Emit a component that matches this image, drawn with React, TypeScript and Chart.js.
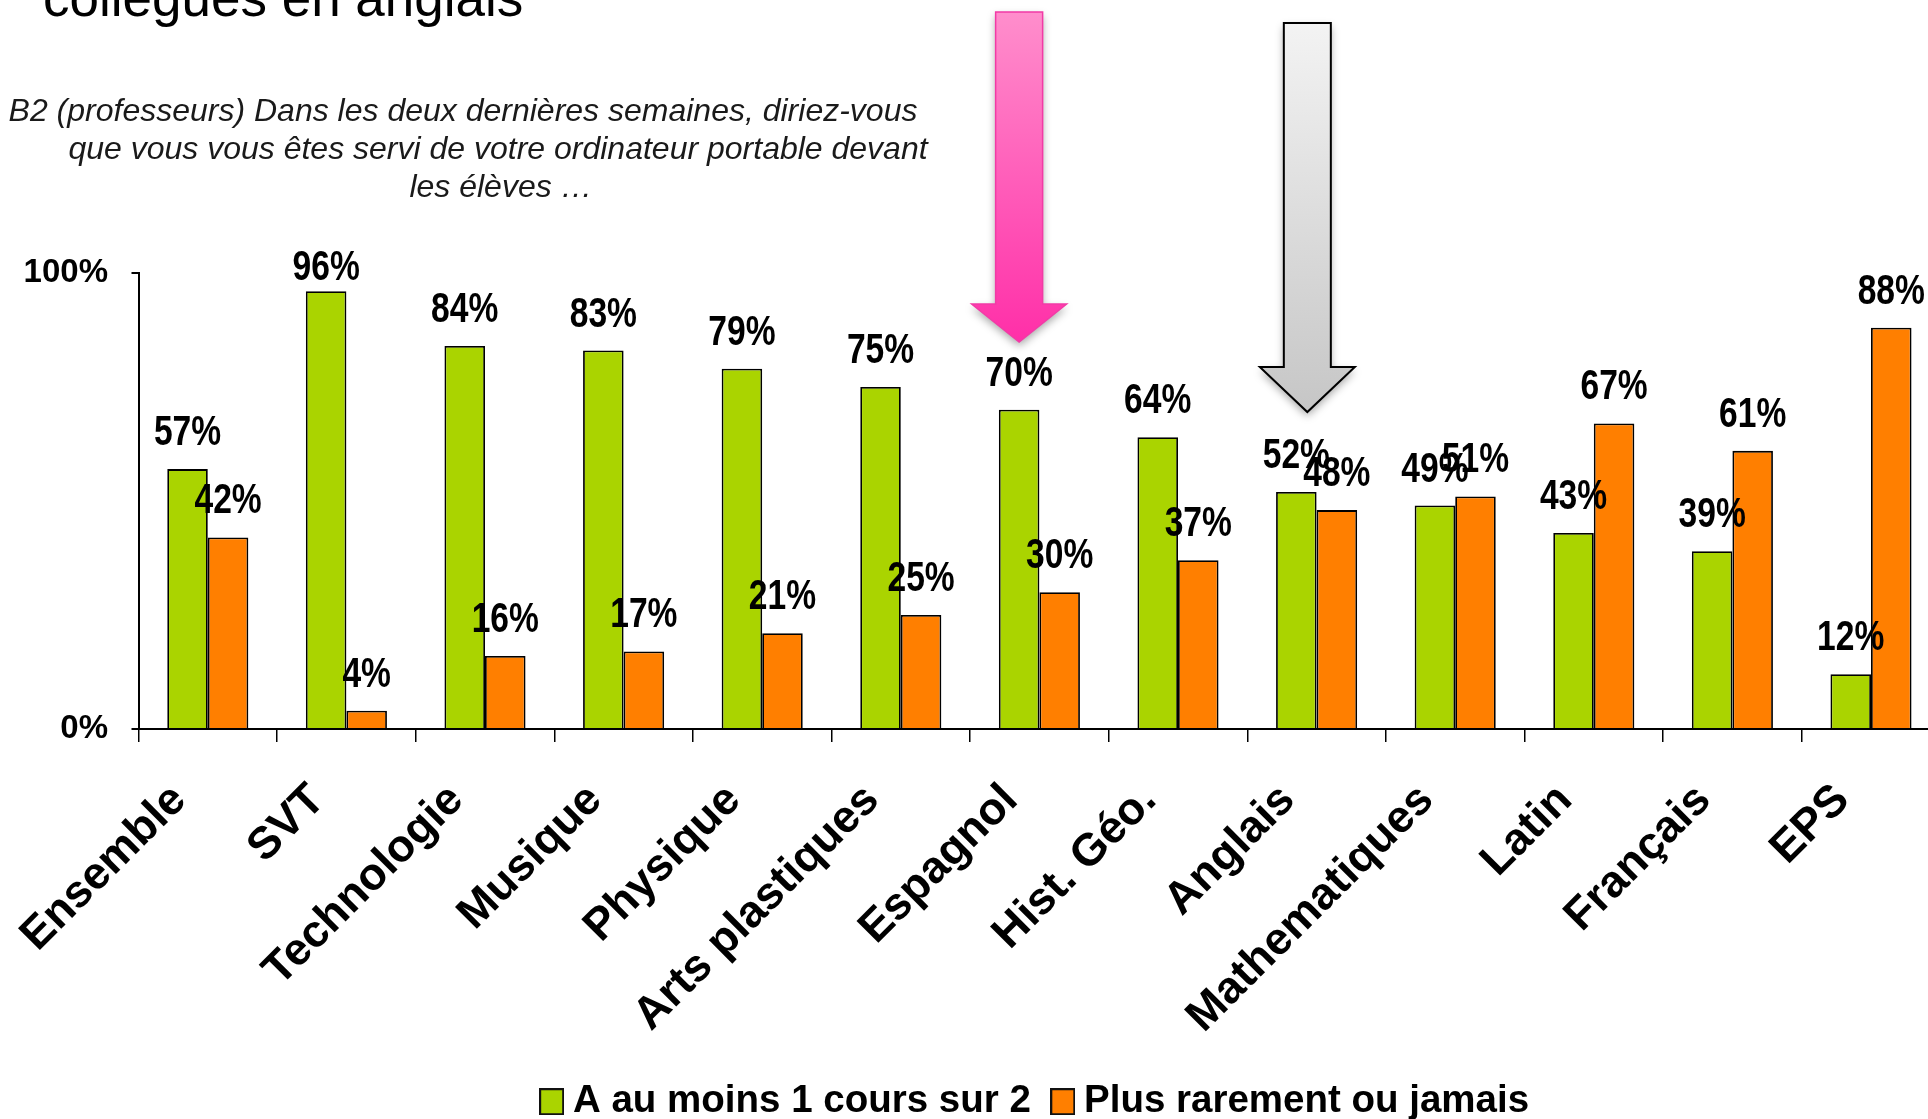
import React, { useEffect, useRef } from 'react';
import { Chart, registerables } from 'chart.js';

Chart.register(...registerables);

// ---------- data ----------
const CATEGORIES = [
  'Ensemble',
  'SVT',
  'Technologie',
  'Musique',
  'Physique',
  'Arts plastiques',
  'Espagnol',
  'Hist. Géo.',
  'Anglais',
  'Mathematiques',
  'Latin',
  'Français',
  'EPS',
];
const SERIES_1_LABEL = 'A au moins 1 cours sur 2';
const SERIES_2_LABEL = 'Plus rarement ou jamais';
const SERIES_1 = [57, 96, 84, 83, 79, 75, 70, 64, 52, 49, 43, 39, 12];
const SERIES_2 = [42, 4, 16, 17, 21, 25, 30, 37, 48, 51, 67, 61, 88];
const Y_MIN = 0;
const Y_MAX = 100;
const Y_STEP = 100;
const TITLE = 'collègues en anglais';
const SUBTITLE_LINES = [
  'B2 (professeurs) Dans les deux dernières semaines, diriez-vous',
  'que vous vous êtes servi de votre ordinateur portable devant',
  'les élèves …',
];

// ---------- styles ----------
const FONT = '"Liberation Sans", Arial, Helvetica, sans-serif';
const GREEN = '#AAD400';
const ORANGE = '#FF7F00';
const CANVAS_W = 1960;
const CANVAS_H = 1131;

function makeSwatch(color: string) {
  const c = document.createElement('canvas');
  c.width = 25;
  c.height = 27;
  const g = c.getContext('2d')!;
  g.fillStyle = color;
  g.fillRect(0, 0, 25, 27);
  g.strokeStyle = '#111';
  g.lineWidth = 2;
  g.strokeRect(1, 1, 23, 25);
  return c;
}

const titlePlugin = {
  id: 'titleText',
  afterDraw(chart: any) {
    const ctx = chart.ctx;
    ctx.save();
    ctx.fillStyle = '#000';
    ctx.textBaseline = 'alphabetic';
    ctx.textAlign = 'left';
    ctx.font = `53px ${FONT}`;
    ctx.fillText(TITLE, 43, 16);
    ctx.font = `italic 32px ${FONT}`;
    ctx.fillStyle = '#1a1a1a';
    ctx.textAlign = 'center';
    const centers = [463, 498, 501];
    const baselines = [121, 159, 197];
    SUBTITLE_LINES.forEach((line, i) => {
      ctx.fillText(line, centers[i], baselines[i]);
    });
    ctx.restore();
  },
};

const valueLabelPlugin = {
  id: 'valueLabels',
  afterDatasetsDraw(chart: any) {
    const ctx = chart.ctx;
    const minBaseline = chart.chartArea.top + 7;
    ctx.save();
    ctx.font = `bold 42px ${FONT}`;
    ctx.fillStyle = '#000';
    ctx.textAlign = 'center';
    ctx.textBaseline = 'alphabetic';
    chart.data.datasets.forEach((ds: any, di: number) => {
      const meta = chart.getDatasetMeta(di);
      meta.data.forEach((bar: any, i: number) => {
        ctx.save();
        ctx.translate(bar.x, Math.max(bar.y - 24, minBaseline));
        ctx.scale(0.8, 1);
        ctx.fillText(`${ds.data[i]}%`, 0, 0);
        ctx.restore();
      });
    });
    ctx.restore();
  },
};

// annotation arrows (decoration)
const ARROWS = [
  { index: 6, dx: 0, top: 12, headY: 304, tipY: 342, c1: '#FF8ECC', c2: '#FF2FA8', stroke: '#F23AA6', lw: 1.5 },
  { index: 8, dx: 11, top: 23, headY: 367, tipY: 412, c1: '#F3F3F3', c2: '#C6C6C6', stroke: '#000', lw: 2 },
];

const arrowPlugin = {
  id: 'arrows',
  afterDraw(chart: any) {
    const ctx = chart.ctx;
    const meta = chart.getDatasetMeta(0);
    ARROWS.forEach((a) => {
      const cx = meta.data[a.index].x + a.dx;
      const sw = 47;
      const hw = 95;
      ctx.save();
      ctx.beginPath();
      ctx.moveTo(cx - sw / 2, a.top);
      ctx.lineTo(cx + sw / 2, a.top);
      ctx.lineTo(cx + sw / 2, a.headY);
      ctx.lineTo(cx + hw / 2, a.headY);
      ctx.lineTo(cx, a.tipY);
      ctx.lineTo(cx - hw / 2, a.headY);
      ctx.lineTo(cx - sw / 2, a.headY);
      ctx.closePath();
      const g = ctx.createLinearGradient(0, a.top, 0, a.tipY);
      g.addColorStop(0, a.c1);
      g.addColorStop(1, a.c2);
      ctx.fillStyle = g;
      ctx.shadowColor = 'rgba(0,0,0,0.35)';
      ctx.shadowBlur = 8;
      ctx.shadowOffsetY = 4;
      ctx.fill();
      ctx.shadowColor = 'transparent';
      ctx.lineWidth = a.lw;
      ctx.strokeStyle = a.stroke;
      ctx.stroke();
      ctx.restore();
    });
  },
};

export default function App() {
  const canvasRef = useRef<HTMLCanvasElement | null>(null);

  useEffect(() => {
    if (!canvasRef.current) return;
    Chart.defaults.font.family = FONT;
    const chart = new Chart(canvasRef.current, {
      type: 'bar',
      data: {
        labels: CATEGORIES,
        datasets: [
          {
            label: SERIES_1_LABEL,
            data: SERIES_1,
            backgroundColor: GREEN,
            borderColor: '#000',
            borderWidth: 1.8,
            categoryPercentage: 0.585,
            barPercentage: 1,
            pointStyle: makeSwatch(GREEN),
          },
          {
            label: SERIES_2_LABEL,
            data: SERIES_2,
            backgroundColor: ORANGE,
            borderColor: '#000',
            borderWidth: 1.8,
            categoryPercentage: 0.585,
            barPercentage: 1,
            pointStyle: makeSwatch(ORANGE),
          },
        ],
      },
      options: {
        animation: false,
        responsive: false,
        devicePixelRatio: 1,
        layout: { padding: { top: 273, left: 0, right: 19.7, bottom: 0 } },
        plugins: {
          legend: {
            position: 'bottom',
            fullSize: false,
            labels: {
              font: { family: FONT, size: 38.5, weight: 'bold' },
              color: '#000',
              usePointStyle: true,
              boxWidth: 4,
              boxHeight: 27,
              padding: 30,
            },
          },
          tooltip: { enabled: false },
          title: { display: false },
        },
        scales: {
          x: {
            type: 'category',
            offset: true,
            grid: {
              offset: true,
              drawOnChartArea: false,
              drawTicks: true,
              tickLength: 13,
              color: '#000',
              lineWidth: 1.5,
            },
            border: { display: true, color: '#000', width: 2 },
            ticks: {
              autoSkip: false,
              minRotation: 45,
              maxRotation: 45,
              padding: 32,
              labelOffset: -28.6,
              font: { family: FONT, size: 45, weight: 'bold' },
              color: '#000',
            },
            afterFit: (s: any) => {
              s.height = 323.5;
            },
          },
          y: {
            min: Y_MIN,
            max: Y_MAX,
            ticks: {
              stepSize: Y_STEP,
              callback: (v: any) => `${v}%`,
              font: { family: FONT, size: 33, weight: 'bold' },
              color: '#000',
              padding: 23.5,
            },
            grid: {
              drawOnChartArea: false,
              drawTicks: true,
              tickLength: 7,
              color: '#000',
              lineWidth: 2,
            },
            border: { display: true, color: '#000', width: 2 },
            afterFit: (s: any) => {
              s.width = 138.5;
            },
          },
        },
      } as any,
      plugins: [valueLabelPlugin, arrowPlugin, titlePlugin],
    });
    return () => chart.destroy();
  }, []);

  return (
    <div
      style={{
        position: 'fixed',
        left: 0,
        top: 0,
        width: 1928,
        height: 1119,
        overflow: 'hidden',
        background: '#fff',
      }}
    >
      <canvas
        ref={canvasRef}
        width={CANVAS_W}
        height={CANVAS_H}
        style={{ display: 'block', width: CANVAS_W, height: CANVAS_H }}
      />
    </div>
  );
}
